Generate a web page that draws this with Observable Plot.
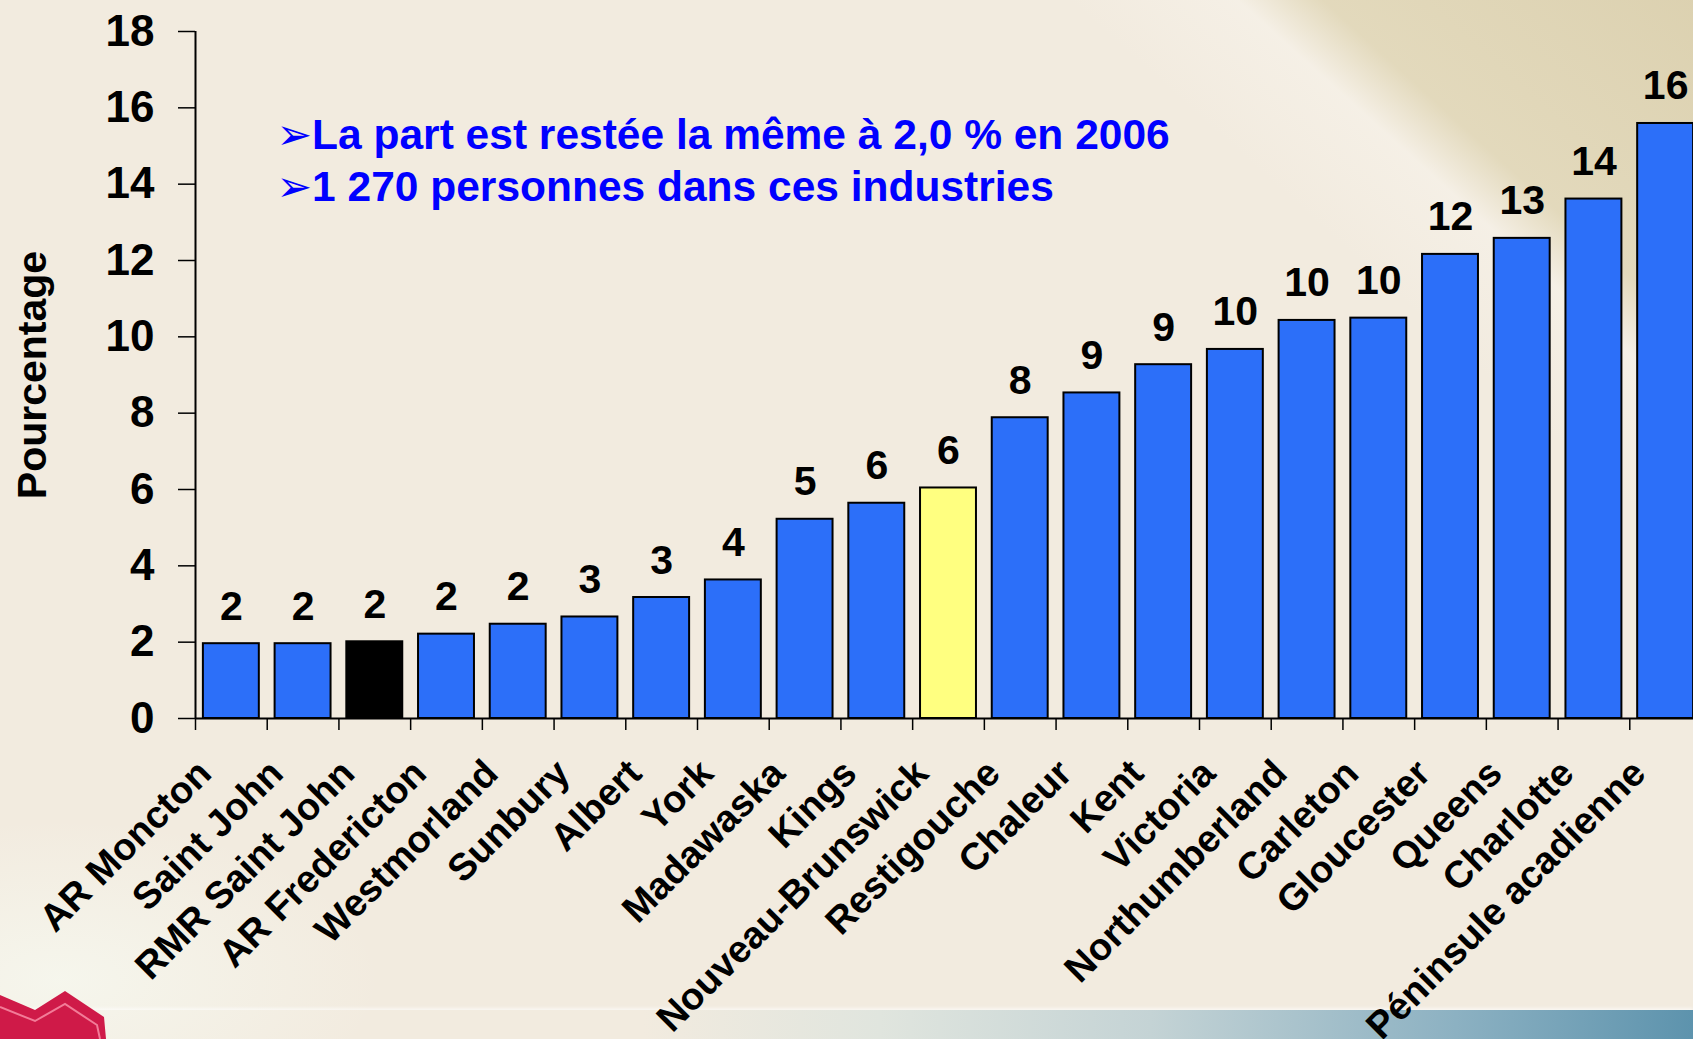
<!DOCTYPE html>
<html>
<head>
<meta charset="utf-8">
<script src="https://cdn.jsdelivr.net/npm/d3@7"></script>
<script src="https://cdn.jsdelivr.net/npm/@observablehq/plot@0.6"></script>
<style>
  html, body { margin: 0; padding: 0; width: 1693px; height: 1039px; overflow: hidden; }
  body {
    position: relative;
    background-color: #F2EBDF;
    background-image:
      linear-gradient(42deg, rgba(220,209,174,0) 0%, rgba(246,241,232,0) 78%, rgba(246,241,232,0.75) 84%, rgba(224,214,182,0.85) 87%, rgba(219,208,174,0.95) 100%),
      radial-gradient(ellipse 320px 160px at 60px 980px, rgba(246,247,238,0.9), rgba(246,247,238,0) 100%);
  }
  #band {
    position: absolute; left: 0; top: 1010px; width: 1693px; height: 29px;
    background: linear-gradient(to right, rgba(242,235,223,0) 38%, rgba(224,229,222,1) 52%, rgba(196,211,213,1) 68%, rgba(140,177,194,1) 86%, #5d93ad 100%);
    box-shadow: 0 -2px 3px rgba(255,255,255,0.6);
  }
  #logo { position: absolute; left: 0; top: 985px; width: 120px; height: 54px; }
  #chart { position: absolute; left: 0; top: 0; }
</style>
</head>
<body>
<div id="band"></div>
<svg id="logo" viewBox="0 985 120 54" width="120" height="54">
  <polygon points="0,995 35,1010 65,991 104,1017 106,1039 0,1039" fill="#CF1A48"/>
  <polyline points="0,1007 35,1021 65,1004 97,1025 100,1039" fill="none" stroke="#F27C98" stroke-width="2"/>
</svg>
<div id="chart"></div>
<script>
// ---- Data ----
const categories = [
  "AR Moncton", "Saint John", "RMR Saint John", "AR Fredericton", "Westmorland",
  "Sunbury", "Albert", "York", "Madawaska", "Kings", "Nouveau-Brunswick",
  "Restigouche", "Chaleur", "Kent", "Victoria", "Northumberland", "Carleton",
  "Gloucester", "Queens", "Charlotte", "Péninsule acadienne"
];
const values = [
  1.96, 1.96, 2.01, 2.21, 2.47,
  2.66, 3.17, 3.63, 5.22, 5.64, 6.04,
  7.88, 8.53, 9.27, 9.67, 10.43, 10.49,
  12.16, 12.58, 13.61, 15.59
];
const valueLabels = [
  "2", "2", "2", "2", "2",
  "3", "3", "4", "5", "6", "6",
  "8", "9", "9", "10", "10", "10",
  "12", "13", "14", "16"
];
const yTicks = [0, 2, 4, 6, 8, 10, 12, 14, 16, 18];
const yLabel = "Pourcentage";
const annotationLines = [
  "➢La part est restée la même à 2,0 % en 2006",
  "➢1 270 personnes dans ces industries"
];
const highlightCMA = "RMR Saint John";
const highlightProvince = "Nouveau-Brunswick";

const data = categories.map((c, i) => ({cat: c, value: values[i], label: valueLabels[i]}));

// ---- Layout ----
const W = 1701, H = 1039, ML = 195, MR = 0, MT = 31, MB = 321;
const step = (W - ML - MR) / categories.length;
const barInset = step * 0.11;
const unitsPerPx = 18 / (H - MT - MB);
const font = "'Liberation Sans', Arial, 'DejaVu Sans', sans-serif";

const chart = Plot.plot({
  width: W, height: H,
  marginLeft: ML, marginRight: MR, marginTop: MT, marginBottom: MB,
  style: {background: "transparent", maxWidth: "none", overflow: "visible", fontFamily: font, color: "#000"},
  x: {domain: categories, padding: 0, round: false, axis: null},
  y: {domain: [0, 18], axis: null, label: null},
  marks: [
    Plot.barY(data, {
      x: "cat", y: "value", insetLeft: barInset, insetRight: barInset,
      fill: d => d.cat === highlightCMA ? "#000000" : d.cat === highlightProvince ? "#FFFF80" : "#2C6FF9",
      stroke: "#000", strokeWidth: 2
    }),
    // x axis line
    Plot.ruleY([0], {stroke: "#000", strokeWidth: 2}),
    // y axis line
    Plot.ruleX([categories[0]], {x: d => d, y1: 0, y2: 18, dx: -step / 2, stroke: "#000", strokeWidth: 2}),
    // x ticks at category boundaries
    Plot.ruleX(categories, {x: d => d, y1: 0, y2: -12 * unitsPerPx, dx: -step / 2, stroke: "#000", strokeWidth: 1.5}),
    // y axis ticks + labels
    Plot.axisY(yTicks, {
      label: null, tickSize: 17, tickPadding: 24, fontSize: 44, fontWeight: "bold",
      strokeWidth: 1.5, stroke: "#000", fill: "#000"
    }),
    // value labels
    Plot.text(data, {
      x: "cat", y: "value", text: "label", dy: -24, lineAnchor: "bottom",
      fontSize: 41, fontWeight: "bold", fill: "#000"
    }),
    // category labels
    Plot.text(data, {
      x: "cat", frameAnchor: "bottom", text: "cat", rotate: -45,
      textAnchor: "end", lineAnchor: "bottom", dy: 57, dx: -18,
      fontSize: 38, fontWeight: "bold", fill: "#000"
    }),
    // y axis title
    Plot.text([yLabel], {
      frameAnchor: "left", rotate: -90, dx: -150, textAnchor: "middle", lineAnchor: "bottom",
      fontSize: 41, fontWeight: "bold", fill: "#000"
    }),
    // annotation
    Plot.text([annotationLines.join("\n")], {
      frameAnchor: "top-left", textAnchor: "start", lineAnchor: "top",
      dx: 81, dy: 80, fontSize: 42.5, lineHeight: 1.23, fontWeight: "bold", fill: "#0000FF"
    })
  ]
});
document.getElementById("chart").appendChild(chart);
</script>
</body>
</html>
